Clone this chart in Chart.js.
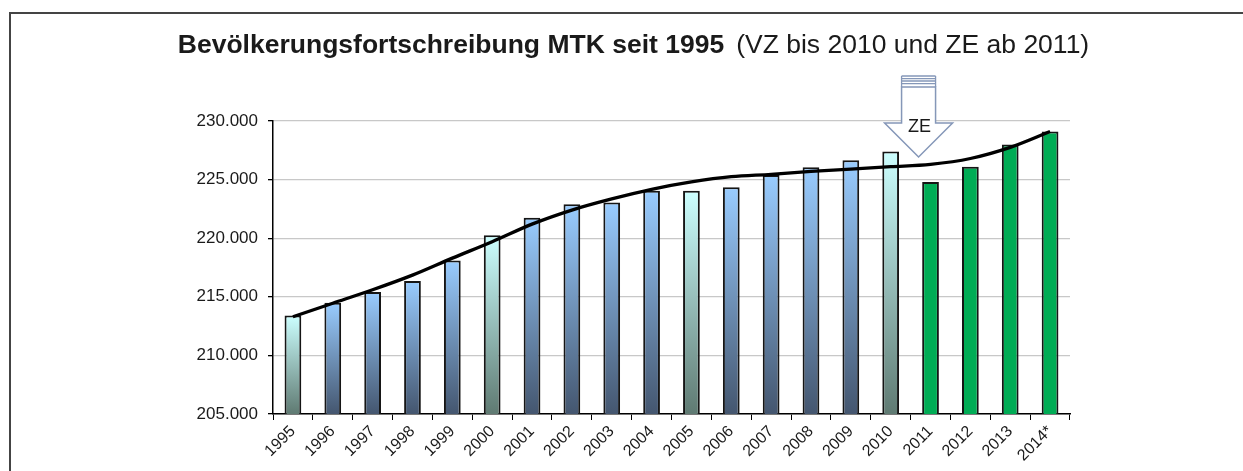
<!DOCTYPE html>
<html>
<head>
<meta charset="utf-8">
<script src="https://cdn.jsdelivr.net/npm/chart.js@4.4.1/dist/chart.umd.min.js"></script>
<style>
  body { margin: 0; background: #fff; overflow: hidden; }
  #wrap { position: relative; width: 1243px; height: 471px; }
  #frame { position: absolute; left: 9px; top: 12px; width: 1300px; height: 500px;
           border-top: 2px solid #444; border-left: 2px solid #444; }
  #myChart { position: absolute; left: 0; top: 0; }
</style>
</head>
<body>
<div id="wrap">
  <div id="frame"></div>
  <canvas id="myChart" width="1243" height="471"></canvas>
</div>
<script>
// data
let years = ["1995", "1996", "1997", "1998", "1999", "2000", "2001", "2002", "2003", "2004",
             "2005", "2006", "2007", "2008", "2009", "2010", "2011", "2012", "2013", "2014*"];
let population = [213400, 214500, 215400, 216350, 218100, 220250, 221750, 222900, 223050, 224050,
                  224050, 224350, 225400, 226050, 226650, 227400, 224800, 226100, 228000, 229100];
// VZ = Fortschreibung Volkszählung, ZE = Zensus
let basis = ["VZ5", "VZ", "VZ", "VZ", "VZ", "VZ5", "VZ", "VZ", "VZ", "VZ",
             "VZ5", "VZ", "VZ", "VZ", "VZ", "VZ5", "ZE", "ZE", "ZE", "ZE"];
let trend = [213300, 214450, 215600, 216850, 218300, 219700, 221200, 222400, 223350, 224170,
             224800, 225250, 225450, 225700, 225900, 226100, 226300, 226800, 227750, 229100];
let yTicks = { min: 205000, max: 230000, step: 5000 };
let titleBold = "Bevölkerungsfortschreibung MTK seit 1995";
let titleRest = "(VZ bis 2010 und ZE ab 2011)";
let arrowLabel = "ZE";

const FONT = "'Liberation Sans', Arial, sans-serif";

function fmt(v) {
  return String(v).replace(/\B(?=(\d{3})+(?!\d))/g, ".");
}

function barFill(context) {
  let chart = context.chart;
  let area = chart.chartArea;
  let kind = basis[context.dataIndex];
  if (kind === "ZE") return "#00ac55";
  let top = kind === "VZ5" ? "#ccffff" : "#99ccff";
  let bottom = kind === "VZ5" ? "#5f7a72" : "#44566f";
  if (!area) return top;
  let yTop = chart.scales.y.getPixelForValue(context.raw);
  let g = chart.ctx.createLinearGradient(0, yTop, 0, area.bottom);
  g.addColorStop(0, top);
  g.addColorStop(1, bottom);
  return g;
}

// title with bold and regular part
let titlePlugin = {
  id: "titlePlugin",
  afterDraw(chart) {
    let ctx = chart.ctx;
    let size = 26.5;
    ctx.save();
    ctx.fillStyle = "#1a1a1a";
    ctx.textBaseline = "alphabetic";
    ctx.font = "bold " + size + "px " + FONT;
    let w1 = ctx.measureText(titleBold).width;
    ctx.font = size + "px " + FONT;
    let w2 = ctx.measureText(titleRest).width;
    let gap = 12;
    let x = 633.5 - (w1 + gap + w2) / 2;
    ctx.font = "bold " + size + "px " + FONT;
    ctx.fillText(titleBold, x, 53);
    ctx.font = size + "px " + FONT;
    ctx.fillText(titleRest, x + w1 + gap, 53);
    ctx.restore();
  }
};

// block arrow marking the census (ZE) break
let arrowPlugin = {
  id: "arrowPlugin",
  afterDatasetsDraw(chart) {
    let ctx = chart.ctx;
    let xs = chart.scales.x;
    let ys = chart.scales.y;
    let cx = xs.getPixelForValue(15.7);
    let tip = ys.getPixelForValue(226930);
    let headY = tip - 34;
    let top = tip - 81;
    let shaft = 17, head = 34;
    ctx.save();
    ctx.beginPath();
    ctx.moveTo(cx - shaft, top + 11);
    ctx.lineTo(cx - shaft, headY);
    ctx.lineTo(cx - head, headY);
    ctx.lineTo(cx, tip);
    ctx.lineTo(cx + head, headY);
    ctx.lineTo(cx + shaft, headY);
    ctx.lineTo(cx + shaft, top + 11);
    ctx.closePath();
    ctx.fillStyle = "#fff";
    ctx.fill();
    ctx.strokeStyle = "#8597b8";
    ctx.lineWidth = 1.5;
    ctx.stroke();
    // stripes on top of the shaft
    ctx.lineWidth = 1.3;
    [0, 2.6, 5, 7.6].forEach((d) => {
      ctx.beginPath();
      ctx.moveTo(cx - shaft, top + d);
      ctx.lineTo(cx + shaft, top + d);
      ctx.stroke();
    });
    ctx.beginPath();
    ctx.moveTo(cx - shaft, top);
    ctx.lineTo(cx - shaft, top + 11);
    ctx.moveTo(cx + shaft, top);
    ctx.lineTo(cx + shaft, top + 11);
    ctx.stroke();
    ctx.fillStyle = "#1a1a1a";
    ctx.font = "18px " + FONT;
    ctx.textAlign = "center";
    ctx.textBaseline = "alphabetic";
    ctx.fillText(arrowLabel, cx + 1, headY + 9);
    ctx.restore();
  }
};

let ctx = document.getElementById("myChart").getContext("2d");

let myChart = new Chart(ctx, {
  type: "bar",
  data: {
    labels: years,
    datasets: [
      {
        type: "line",
        label: "Trend",
        data: trend,
        borderColor: "#000",
        borderWidth: 3.3,
        pointRadius: 0,
        cubicInterpolationMode: "monotone",
        fill: false,
        order: 0,
      },
      {
        label: "Bevölkerung",
        data: population,
        backgroundColor: barFill,
        borderColor: "#151515",
        borderWidth: 2,
        borderSkipped: "bottom",
        barPercentage: 0.42,
        categoryPercentage: 1,
        order: 1,
      },
    ],
  },
  options: {
    responsive: false,
    animation: false,
    layout: { padding: { left: 0, right: 173, top: 121, bottom: 0 } },
    plugins: {
      legend: { display: false },
      tooltip: { enabled: false },
      title: { display: false },
    },
    scales: {
      x: {
        offset: true,
        grid: { offset: true, drawOnChartArea: false, tickLength: 6, tickColor: "#000", lineWidth: 1 },
        border: { color: "#000", width: 1.5 },
        ticks: { color: "#1a1a1a", font: { family: FONT, size: 16 }, minRotation: 45, maxRotation: 45, autoSkip: false, padding: 2 },
        afterFit(scale) { scale.height = 57; },
      },
      y: {
        min: yTicks.min,
        max: yTicks.max,
        grid: { color: "#c8c8c8", lineWidth: 1.3, tickLength: 5, tickColor: "#000" },
        border: { color: "#000", width: 1.5 },
        ticks: {
          stepSize: yTicks.step,
          color: "#1a1a1a",
          padding: 10,
          font: { family: FONT, size: 17 },
          callback: (v) => fmt(v),
        },
        afterFit(scale) { scale.width = 273; },
      },
    },
  },
  plugins: [titlePlugin, arrowPlugin],
});
</script>
</body>
</html>
